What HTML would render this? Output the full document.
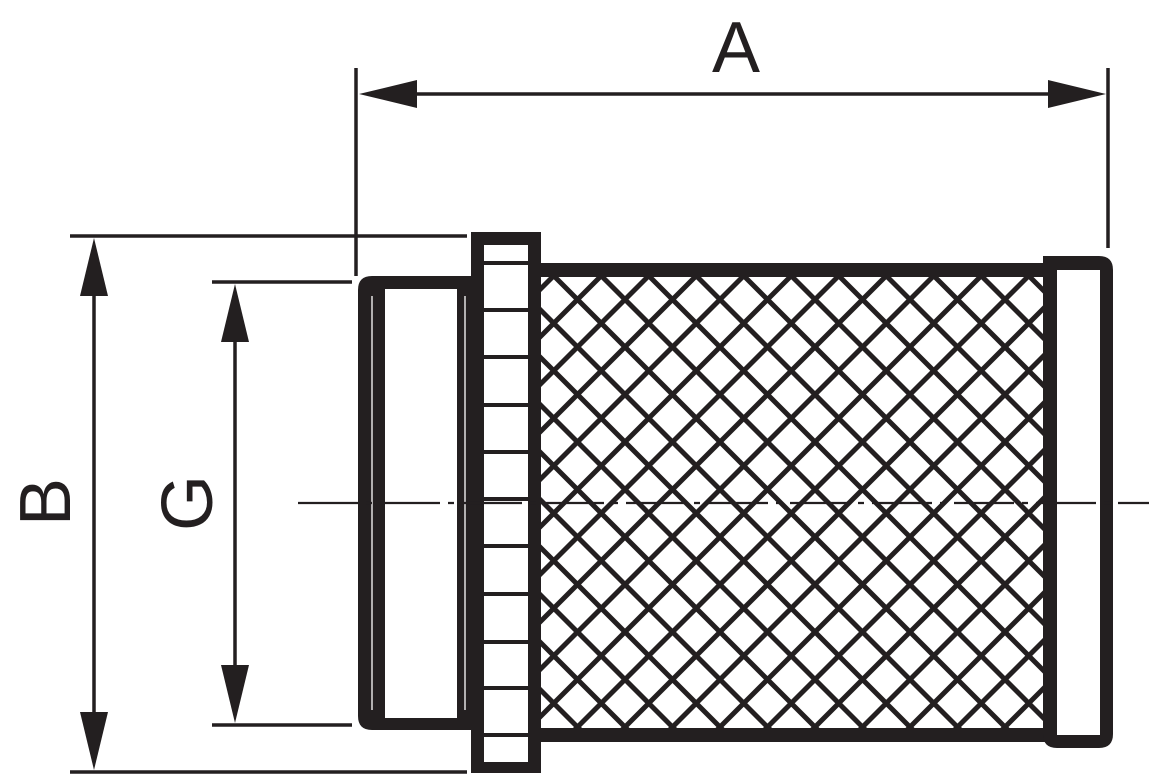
<!DOCTYPE html>
<html><head><meta charset="utf-8"><style>html,body{margin:0;padding:0;background:#fff}svg{display:block}</style></head>
<body>
<svg width="1149" height="776" viewBox="0 0 1149 776" xmlns="http://www.w3.org/2000/svg">
<defs>
<pattern id="p" patternUnits="userSpaceOnUse" x="7.5" y="14.5" width="47.5" height="47.5">
<path d="M-6 -6 L53.5 53.5 M53.5 -6 L-6 53.5" stroke="#231f20" stroke-width="5" fill="none"/>
</pattern>
</defs>
<g stroke="#231f20" fill="none">
<line x1="356" y1="68" x2="356" y2="276" stroke-width="3.5"/>
<line x1="1108" y1="68" x2="1108" y2="248" stroke-width="3.5"/>
<line x1="410" y1="94" x2="1060" y2="94" stroke-width="3.5"/>
<line x1="70" y1="236" x2="467" y2="236" stroke-width="3.5"/>
<line x1="70" y1="772" x2="467" y2="772" stroke-width="3.5"/>
<line x1="94" y1="290" x2="94" y2="720" stroke-width="3.5"/>
<line x1="212" y1="282" x2="352" y2="282" stroke-width="3.5"/>
<line x1="212" y1="725" x2="352" y2="725" stroke-width="3.5"/>
<line x1="235" y1="330" x2="235" y2="680" stroke-width="3.5"/>
</g>
<rect x="541" y="277" width="502" height="451" fill="url(#p)"/>
<g fill="#231f20">
<rect x="541" y="263" width="510" height="14"/>
<rect x="541" y="728" width="510" height="14"/>
<path fill-rule="evenodd" d="M372 276 H471 V730 H372 Q358 730 358 716 V290 Q358 276 372 276 Z M385 289 H457 V718 H385 Z"/>
<path fill-rule="evenodd" d="M471 232 H541 V773 H471 Z M484 245 H528 V762 H484 Z"/>
<path fill-rule="evenodd" d="M1057 256 H1099 Q1113 256 1113 270 V734 Q1113 748 1099 748 H1057 Q1043 748 1043 734 V256 Z M1057 270 H1100 V735 H1057 Z"/>
<polygon points="359,94 417,80 417,108"/>
<polygon points="1106,94 1048,80 1048,108"/>
<polygon points="94,238 80,296 108,296"/>
<polygon points="94,770 80,712 108,712"/>
<polygon points="235,284 221,342 249,342"/>
<polygon points="235,723 221,665 249,665"/>
</g>
<g stroke="#fff" stroke-width="1.3">
<line x1="372" y1="296" x2="372" y2="710"/>
<line x1="465" y1="296" x2="465" y2="710"/>
</g>
<path stroke="#231f20" stroke-width="4" d="M484 263H528M484 310H528M484 357H528M484 405H528M484 452H528M484 499H528M484 546H528M484 594H528M484 642H528M484 688H528M484 735H528"/>
<path d="M298 503 H1149" stroke="#231f20" stroke-width="2.2" stroke-dasharray="60 8 6 8"/>
<g fill="#231f20" font-family="Liberation Sans, sans-serif" font-size="72">
<text x="736" y="72" text-anchor="middle">A</text>
<text transform="translate(70,502) rotate(-90)" text-anchor="middle">B</text>
<text transform="translate(212,503) rotate(-90)" text-anchor="middle">G</text>
</g>
</svg>
</body></html>
